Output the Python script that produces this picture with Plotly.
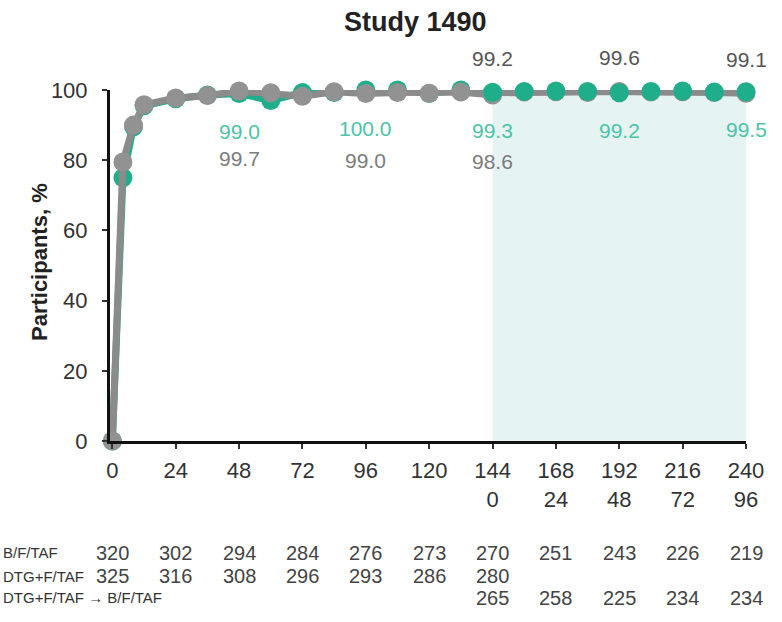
import plotly.graph_objects as go

# ---- data -------------------------------------------------------------
weeks_main = [0, 4, 8, 12, 24, 36, 48, 60, 72, 84, 96, 108, 120, 132, 144]
bftaf_pct = [0, 79.5, 90.0, 95.8, 97.7, 98.4, 99.7, 99.2, 98.2, 99.5, 99.0, 99.3, 99.1, 99.4, 98.6]
dtg_pct = [0, 75.0, 89.5, 95.5, 97.5, 98.6, 99.0, 97.0, 99.3, 99.3, 100.0, 100.0, 99.0, 100.0, 99.3]

weeks_ext = [144, 156, 168, 180, 192, 204, 216, 228, 240]
bftaf_ext_pct = [99.2, 99.4, 99.5, 99.3, 99.6, 99.4, 99.5, 99.3, 99.1]
switch_pct = [99.3, 99.6, 99.7, 99.6, 99.2, 99.6, 99.7, 99.4, 99.5]

# weeks at which values are printed
teal_label_weeks = [48, 96]
gray_label_weeks = [48, 96, 144]
ext_label_weeks = [144, 192, 240]

tick_weeks = [0, 24, 48, 72, 96, 120, 144, 168, 192, 216, 240]
tick_text = ["0", "24", "48", "72", "96", "120", "144<br>0", "168<br>24",
             "192<br>48", "216<br>72", "240<br>96"]

row_names = ["B/F/TAF", "DTG+F/TAF", "DTG+F/TAF \u2192 B/F/TAF"]
n_bftaf = [320, 302, 294, 284, 276, 273, 270, 251, 243, 226, 219]
n_dtg = [325, 316, 308, 296, 293, 286, 280]
n_switch = [265, 258, 225, 234, 234]
n_switch_weeks = [144, 168, 192, 216, 240]

# ---- styling ----------------------------------------------------------
GRAY_LINE = "#8b8b8b"
GRAY_DOT = "#929292"
TEAL = "#1fae8c"
TEAL_TXT = "#4cc4a8"
GRAY_TXT = "#7b7b7b"
DARK_TXT = "#555555"
FONT = "Liberation Sans, Arial, sans-serif"

fig = go.Figure()

# extension period shading
fig.add_shape(type="rect", xref="x", yref="y", x0=144, x1=240, y0=0, y1=112,
              fillcolor="#e5f3f2", line_width=0, layer="below")

# DTG+F/TAF (drawn first, sits underneath)
fig.add_trace(go.Scatter(x=weeks_main, y=dtg_pct, mode="lines+markers",
                         line=dict(color=TEAL, width=7),
                         marker=dict(color=TEAL, size=19, line_width=0),
                         cliponaxis=False, showlegend=False))
# B/F/TAF continuing
fig.add_trace(go.Scatter(x=weeks_ext, y=bftaf_ext_pct, mode="lines+markers",
                         line=dict(color=GRAY_LINE, width=7),
                         marker=dict(color=GRAY_DOT, size=19, line_width=0),
                         cliponaxis=False, showlegend=False))
# B/F/TAF randomised phase
fig.add_trace(go.Scatter(x=weeks_main, y=bftaf_pct, mode="lines+markers",
                         line=dict(color=GRAY_LINE, width=7),
                         marker=dict(color=GRAY_DOT, size=19, line_width=0),
                         cliponaxis=False, showlegend=False))
# switch to B/F/TAF
fig.add_trace(go.Scatter(x=weeks_ext, y=switch_pct, mode="markers",
                         marker=dict(color=TEAL, size=19, line_width=0),
                         cliponaxis=False, showlegend=False))

annotations = []


def value_at(xs, ys, w):
    return ys[xs.index(w)]


def value_label(w, v, shift, color):
    return dict(x=w, y=v, text=f"{v:.1f}", showarrow=False, yshift=shift,
                font=dict(size=21, color=color, family=FONT))


# printed values
for w in teal_label_weeks:
    annotations.append(value_label(w, value_at(weeks_main, dtg_pct, w), -38, TEAL_TXT))
for w in gray_label_weeks:
    annotations.append(value_label(w, value_at(weeks_main, bftaf_pct, w), -67, GRAY_TXT))
for w in ext_label_weeks:
    annotations.append(value_label(w, value_at(weeks_ext, switch_pct, w), -38, TEAL_TXT))
    annotations.append(value_label(w, value_at(weeks_ext, bftaf_ext_pct, w), 34, DARK_TXT))

# numbers-at-risk table
row_y = [-0.319, -0.385, -0.447]
for name, yy in zip(row_names, row_y):
    annotations.append(dict(xref="paper", yref="paper", x=-0.171, y=yy, text=name,
                            xanchor="left", yanchor="middle", showarrow=False,
                            font=dict(size=15, color="#333333", family=FONT)))
for w, n in zip(tick_weeks, n_bftaf):
    annotations.append(dict(x=w, xref="x", yref="paper", y=row_y[0], text=str(n),
                            showarrow=False, yanchor="middle",
                            font=dict(size=20, color="#444444", family=FONT)))
for w, n in zip(tick_weeks, n_dtg):
    annotations.append(dict(x=w, xref="x", yref="paper", y=row_y[1], text=str(n),
                            showarrow=False, yanchor="middle",
                            font=dict(size=20, color="#444444", family=FONT)))
for w, n in zip(n_switch_weeks, n_switch):
    annotations.append(dict(x=w, xref="x", yref="paper", y=row_y[2], text=str(n),
                            showarrow=False, yanchor="middle",
                            font=dict(size=20, color="#444444", family=FONT)))

# title and y-axis title
annotations.append(dict(xref="paper", yref="paper", x=0.481, y=1.195, text="<b>Study 1490</b>",
                        showarrow=False, xanchor="center", yanchor="middle",
                        font=dict(size=27, color="#222222", family=FONT)))
annotations.append(dict(xref="paper", yref="paper", x=-0.110, y=0.51, text="<b>Participants, %</b>",
                        showarrow=False, textangle=-90, xanchor="center", yanchor="middle",
                        font=dict(size=22, color="#222222", family=FONT)))

fig.update_layout(
    width=782, height=622,
    margin=dict(l=110, r=36, t=90, b=181, pad=0),
    paper_bgcolor="white", plot_bgcolor="white",
    annotations=annotations,
    font=dict(family=FONT, color="#333333"),
)
fig.update_xaxes(range=[-0.9, 240], tickvals=tick_weeks, ticktext=tick_text,
                 showline=True, linecolor="#111111", linewidth=3,
                 ticks="outside", ticklen=5, tickwidth=1.5, tickcolor="#333333",
                 showgrid=False, zeroline=False, tickfont=dict(size=22, color="#333333"),
                 ticklabelstandoff=3)
fig.update_yaxes(range=[0, 100], tickvals=[0, 20, 40, 60, 80, 100],
                 showline=True, linecolor="#111111", linewidth=3,
                 ticks="outside", ticklen=5, tickwidth=1.5, tickcolor="#333333",
                 showgrid=False, zeroline=False, tickfont=dict(size=22, color="#333333"),
                 ticklabelstandoff=10)

fig.write_html("out.html")
